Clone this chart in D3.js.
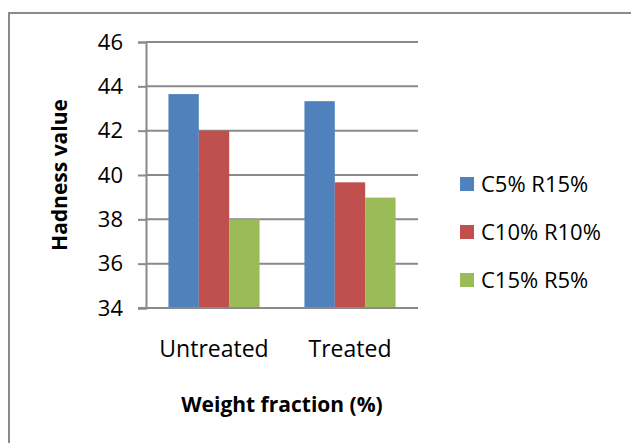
<!DOCTYPE html>
<html>
<head>
<meta charset="utf-8">
<script src="https://cdn.jsdelivr.net/npm/d3@7"></script>
<style>
  html, body { margin: 0; padding: 0; background: #fff; }
  svg { display: block; font-family: "Open Sans", "Liberation Sans", sans-serif; }
</style>
</head>
<body>
<svg id="chart" width="631" height="443"></svg>
<script>
// Hardness values by treatment group and fibre mix
const categories = ["Untreated", "Treated"];
const seriesNames = ["C5% R15%", "C10% R10%", "C15% R5%"];
const c5r15 = [43.65, 43.33];
const c10r10 = [42.0, 39.67];
const c15r5 = [38.0, 38.98];
const yTicks = [34, 36, 38, 40, 42, 44, 46];
const colors = ["#4F81BD", "#C0504D", "#9BBB59"];

const seriesValues = [c5r15, c10r10, c15r5];
const rows = categories.map((c, i) => ({
  category: c,
  values: seriesNames.map((s, j) => ({ series: s, value: seriesValues[j][i], idx: j }))
}));

const svg = d3.select("#chart");
const gridColor = "#8a8a8a";

// outer frame (top and left edges visible)
svg.append("path")
  .attr("d", "M9,443 V13 H631")
  .attr("fill", "none")
  .attr("stroke", gridColor)
  .attr("stroke-width", 2);

const x0 = d3.scaleBand().domain(categories).range([146, 418])
  .paddingInner(0.33).paddingOuter(0.165);
const x1 = d3.scaleBand().domain(seriesNames).range([0, x0.bandwidth()]);
const y = d3.scaleLinear().domain([34, 46]).range([308, 42]);

// horizontal gridlines
svg.append("g").selectAll("line")
  .data(yTicks.slice(1))
  .join("line")
  .attr("x1", 146).attr("x2", 418)
  .attr("y1", d => y(d)).attr("y2", d => y(d))
  .attr("stroke", gridColor).attr("stroke-width", 2);

// bars
const groups = svg.append("g").selectAll("g")
  .data(rows)
  .join("g")
  .attr("transform", d => `translate(${x0(d.category)},0)`);
groups.selectAll("rect")
  .data(d => d.values)
  .join("rect")
  .attr("x", d => x1(d.series))
  .attr("width", x1.bandwidth())
  .attr("y", d => y(d.value))
  .attr("height", d => y(34) - y(d.value))
  .attr("fill", d => colors[d.idx]);

// y axis
const yAxis = svg.append("g")
  .attr("transform", "translate(146,0)")
  .call(d3.axisLeft(y).tickValues(yTicks).tickFormat(d3.format("d")).tickSize(8).tickPadding(15));
yAxis.select(".domain").attr("stroke", gridColor).attr("stroke-width", 2);
yAxis.selectAll(".tick line").attr("stroke", gridColor).attr("stroke-width", 2);
yAxis.selectAll(".tick text")
  .attr("fill", "#000")
  .style("font-family", "'Open Sans', sans-serif")
  .style("font-size", "22px");

// x axis baseline
svg.append("line")
  .attr("x1", 138).attr("x2", 418)
  .attr("y1", y(34)).attr("y2", y(34))
  .attr("stroke", gridColor).attr("stroke-width", 2);

// category labels
svg.append("g").selectAll("text")
  .data(categories)
  .join("text")
  .attr("x", d => x0(d) + x0.bandwidth() / 2)
  .attr("y", 357)
  .attr("text-anchor", "middle")
  .style("font-size", "23px")
  .attr("fill", "#000")
  .text(d => d);

// axis titles
svg.append("text")
  .attr("x", 282).attr("y", 412)
  .attr("text-anchor", "middle")
  .style("font-size", "21px").style("font-weight", "bold")
  .text("Weight fraction (%)");

svg.append("text")
  .attr("transform", "translate(67,175) rotate(-90)")
  .attr("text-anchor", "middle")
  .style("font-size", "21px").style("font-weight", "bold")
  .text("Hadness value");

// legend
const legend = svg.append("g").selectAll("g")
  .data(seriesNames)
  .join("g")
  .attr("transform", (d, i) => `translate(460,${184 + i * 48})`);
legend.append("rect")
  .attr("x", 0).attr("y", -7)
  .attr("width", 14).attr("height", 14)
  .attr("fill", (d, i) => colors[i]);
legend.append("text")
  .attr("x", 21).attr("y", 7.5)
  .style("font-size", "22px")
  .attr("fill", "#000")
  .text(d => d);
</script>
</body>
</html>
